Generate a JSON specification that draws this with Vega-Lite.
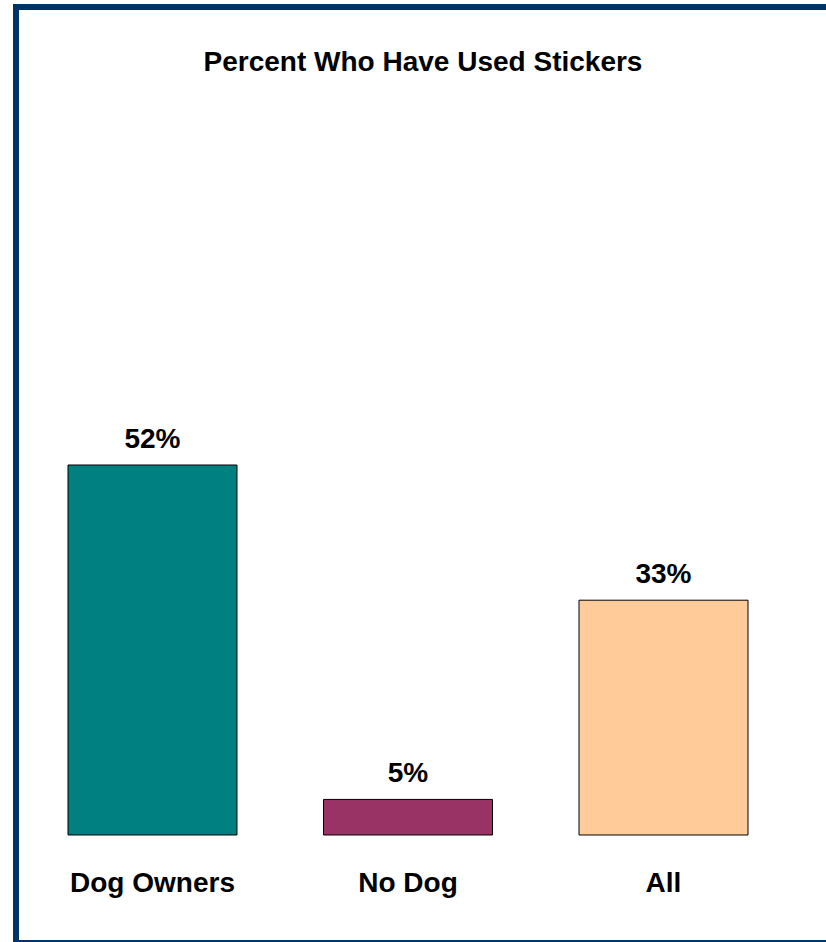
{
  "$schema": "https://vega.github.io/schema/vega-lite/v6.json",
  "autosize": "none",
  "padding": {"left": 16, "top": 7, "right": 0, "bottom": 0},
  "width": 820,
  "height": 936,
  "background": "white",
  "config": {
    "view": {"stroke": "#003366", "strokeWidth": 6},
    "font": "Liberation Sans"
  },
  "title": {
    "text": "Percent Who Have Used Stickers",
    "frame": "group",
    "anchor": "middle",
    "offset": -65,
    "dy": 27,
    "baseline": "alphabetic",
    "fontSize": 28,
    "fontWeight": "bold",
    "font": "Liberation Sans",
    "color": "black",
    "dx": -3
  },
  "data": {
    "values": [
      {"group": "Dog Owners", "pct": 52, "label": "52%"},
      {"group": "No Dog", "pct": 5, "label": "5%"},
      {"group": "All", "pct": 33, "label": "33%"}
    ]
  },
  "encoding": {
    "x": {
      "field": "group",
      "type": "nominal",
      "sort": null,
      "scale": {"paddingInner": 0.3386, "paddingOuter": 0.274, "align": 0.3714},
      "axis": {
        "title": null,
        "orient": "bottom",
        "offset": -52,
        "domain": false,
        "ticks": false,
        "tickSize": 0,
        "grid": false,
        "labelPadding": 0,
        "labelAngle": 0,
        "labelBaseline": "alphabetic",
        "labelFontSize": 28,
        "labelFontWeight": "bold",
        "labelFont": "Liberation Sans",
        "labelColor": "black"
      }
    },
    "y": {
      "field": "pct",
      "type": "quantitative",
      "scale": {"domain": [-15.18, 116.37], "nice": false, "zero": false},
      "axis": null
    }
  },
  "layer": [
    {
      "mark": {"type": "bar", "stroke": "black", "strokeWidth": 1},
      "encoding": {
        "y2": {"datum": 0},
        "color": {
          "field": "group",
          "type": "nominal",
          "scale": {"domain": ["Dog Owners", "No Dog", "All"], "range": ["#008080", "#993366", "#FFCC99"]},
          "legend": null
        }
      }
    },
    {
      "mark": {"type": "text", "baseline": "alphabetic", "dy": -17, "fontSize": 28, "fontWeight": "bold", "font": "Liberation Sans", "color": "black"},
      "encoding": {"text": {"field": "label"}}
    }
  ]
}
